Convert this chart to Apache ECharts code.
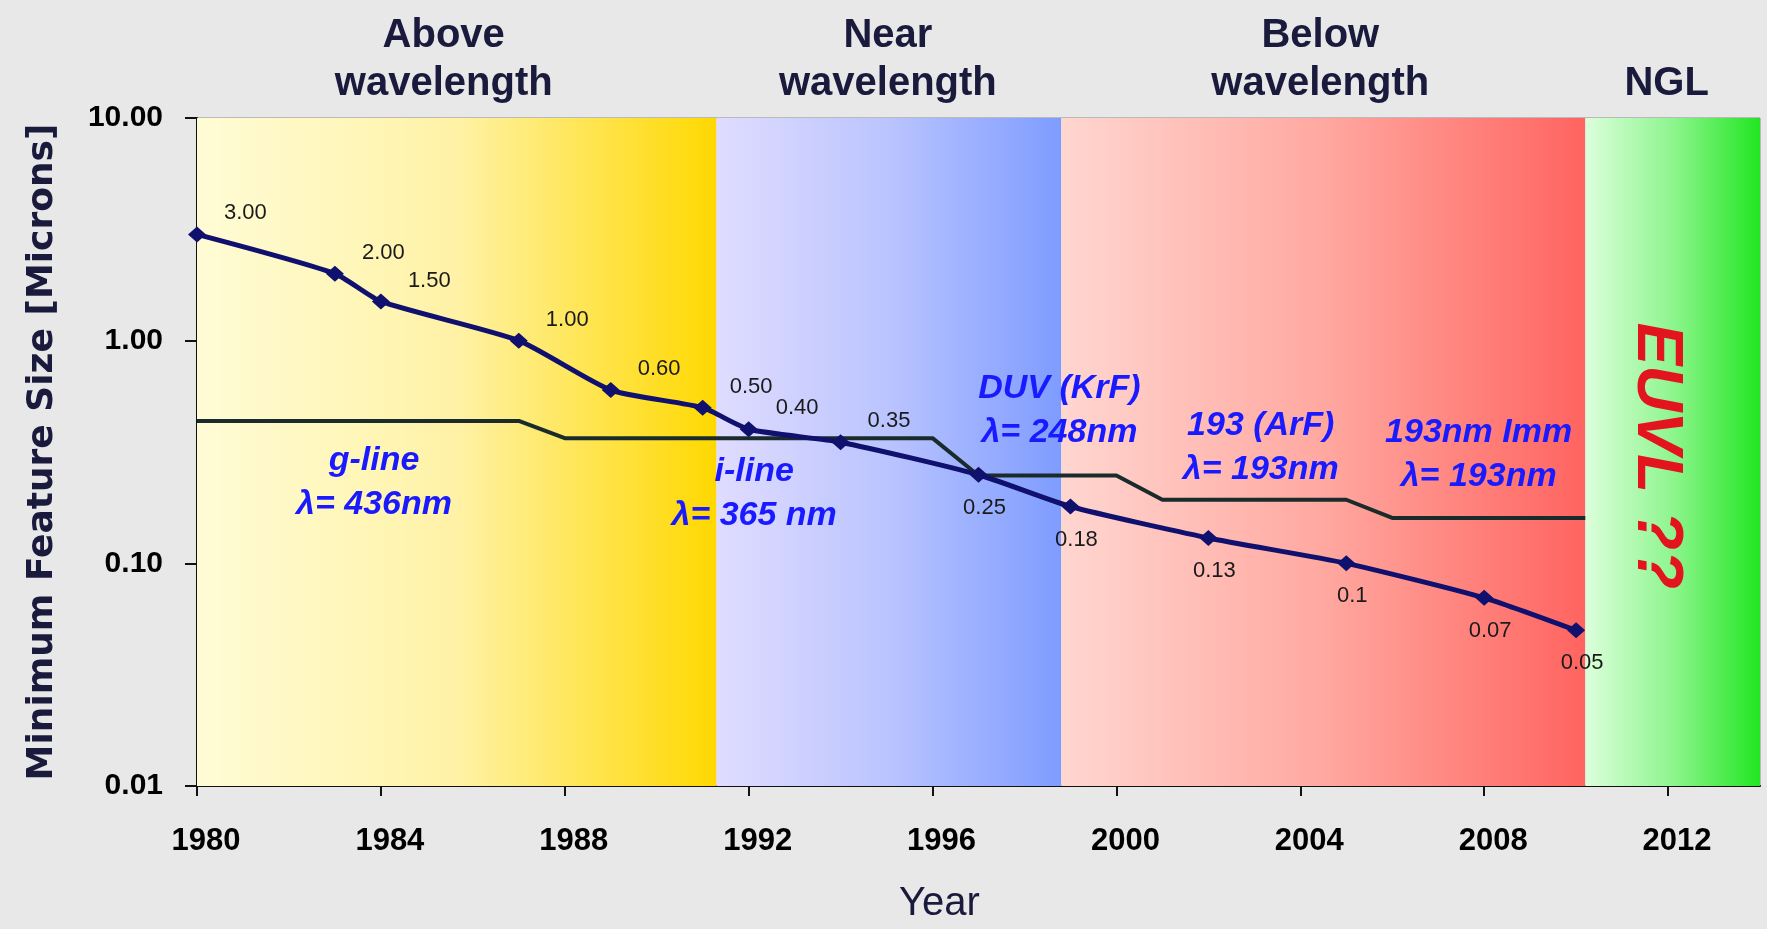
<!DOCTYPE html>
<html>
<head>
<meta charset="utf-8">
<title>Minimum Feature Size vs Year</title>
<script src="https://cdn.jsdelivr.net/npm/echarts@6.0.0/dist/echarts.min.js"></script>
<style>
  html, body { margin: 0; padding: 0; background: #e8e8e8; }
  #chart { width: 1767px; height: 929px; }
</style>
</head>
<body>
<div id="chart"></div>
<script>
// feature size roadmap (microns)
const years = [1980, 1983, 1984, 1987, 1989, 1991, 1992, 1994, 1997, 1999, 2002, 2005, 2008, 2010]
const featureSize = [3.0, 2.0, 1.5, 1.0, 0.6, 0.5, 0.4, 0.35, 0.25, 0.18, 0.13, 0.1, 0.07, 0.05]
const featureLabels = ['3.00', '2.00', '1.50', '1.00', '0.60', '0.50', '0.40', '0.35', '0.25', '0.18', '0.13', '0.1', '0.07', '0.05']

// exposure wavelength (microns)
const lambdaYears = [1980, 1987, 1988, 1996, 1997, 2000, 2001, 2005, 2006, 2010.2]
const lambdaMicrons = [0.436, 0.436, 0.365, 0.365, 0.248, 0.248, 0.193, 0.193, 0.16, 0.16]

// regimes
const bandNames = ['Above\nwavelength', 'Near\nwavelength', 'Below\nwavelength', 'NGL']
const bandStart = [1980, 1991.3, 1998.8, 2010.2]
const bandEnd = [1991.3, 1998.8, 2010.2, 2014]

// light sources
const noteTexts = ['g-line\nλ= 436nm', 'i-line\nλ= 365 nm', 'DUV (KrF)\nλ= 248nm', '193 (ArF)\nλ= 193nm', '193nm Imm\nλ= 193nm']
const noteYears = [1983.85, 1992.12, 1998.76, 2003.14, 2007.88]
const noteValues = [0.23, 0.205, 0.487, 0.33, 0.307]
const euvlText = 'EUVL ??'
const euvlAt = [2011.74, 0.304]

const xTicks = [1980, 1984, 1988, 1992, 1996, 2000, 2004, 2008, 2012]
const yTicks = [0.01, 0.1, 1, 10]

const bandColors = [
  ['#fffcd6', '#fff2a6', '#ffd800'],
  ['#e0dcff', '#bac4ff', '#7e9cff'],
  ['#ffd6d0', '#ffa8a0', '#ff6460'],
  ['#dcffdc', '#8ef58e', '#22e622']
]
// small nudges so the regime titles sit like the original
const bandLabelShift = [-13, -1, -3, -6]

const chart = echarts.init(document.getElementById('chart'))

const aboveLabel = { position: 'right', distance: 18, offset: [0, -21] }
const belowLabel = { position: 'bottom', distance: 14, offset: [6, 0] }

const option = {
  backgroundColor: '#e8e8e8',
  animation: false,
  grid: {
    left: 197,
    right: 7,
    top: 118,
    bottom: 139,
    show: true,
    borderColor: '#8c8c8c',
    borderWidth: 1,
    backgroundColor: 'transparent'
  },
  xAxis: {
    type: 'value',
    min: 1980,
    max: 2014,
    interval: 4,
    name: 'Year',
    nameLocation: 'middle',
    nameGap: 98,
    nameTextStyle: {
      fontFamily: 'Liberation Sans',
      fontSize: 40,
      color: '#1a1a3c',
      padding: [0, 78, 0, 0]
    },
    axisLine: { onZero: false, lineStyle: { color: '#111', width: 2 } },
    axisTick: { customValues: xTicks, length: 10, lineStyle: { color: '#111', width: 2 } },
    axisLabel: {
      customValues: xTicks,
      margin: 40,
      fontFamily: 'Liberation Sans',
      fontWeight: 'bold',
      fontSize: 31,
      color: '#000',
      padding: [0, 0, 0, 18],
      formatter: v => String(v)
    },
    splitLine: { show: false }
  },
  yAxis: {
    type: 'log',
    logBase: 10,
    min: 0.01,
    max: 10,
    name: 'Minimum Feature Size [Microns]',
    nameLocation: 'middle',
    nameGap: 136,
    nameTextStyle: {
      fontFamily: 'DejaVu Sans',
      fontWeight: 'bold',
      fontSize: 36,
      color: '#1a1a3c'
    },
    axisLine: { show: true, lineStyle: { color: '#111', width: 2 } },
    axisTick: { customValues: yTicks, length: 12, lineStyle: { color: '#111', width: 2 } },
    minorTick: { show: false },
    axisLabel: {
      customValues: yTicks,
      margin: 34,
      fontFamily: 'Liberation Sans',
      fontWeight: 'bold',
      fontSize: 30,
      color: '#000',
      padding: [14, 0, 0, 0],
      formatter: v => v.toFixed(2)
    },
    splitLine: { show: false }
  },
  series: [
    {
      name: 'bands',
      type: 'line',
      data: [],
      z: 1,
      silent: true,
      markArea: {
        silent: true,
        data: bandNames.map((name, i) => [
          {
            name: name,
            xAxis: bandStart[i],
            yAxis: 10,
            itemStyle: {
              color: new echarts.graphic.LinearGradient(0, 0, 1, 0, [
                { offset: 0, color: bandColors[i][0] },
                { offset: 0.5, color: bandColors[i][1] },
                { offset: 1, color: bandColors[i][2] }
              ])
            },
            label: { offset: [bandLabelShift[i], 0] }
          },
          { xAxis: bandEnd[i], yAxis: 0.01 }
        ]),
        label: {
          show: true,
          position: 'top',
          distance: 10,
          fontFamily: 'Liberation Sans',
          fontWeight: 'bold',
          fontSize: 40,
          lineHeight: 48,
          color: '#1a1a3c',
          align: 'center'
        }
      }
    },
    {
      name: 'Wavelength',
      type: 'line',
      z: 3,
      data: lambdaYears.map((y, i) => [y, lambdaMicrons[i]]),
      showSymbol: false,
      lineStyle: { color: '#1a2b2b', width: 4 },
      markPoint: {
        silent: true,
        symbol: 'rect',
        symbolSize: 1,
        itemStyle: { color: 'transparent' },
        label: {
          show: true,
          position: 'inside',
          fontFamily: 'Liberation Sans',
          fontWeight: 'bold',
          fontStyle: 'italic',
          fontSize: 34,
          lineHeight: 44,
          color: '#1a1aff',
          align: 'center'
        },
        data: noteTexts.map((t, i) => ({
          coord: [noteYears[i], noteValues[i]],
          label: { formatter: t }
        })).concat([{
          coord: euvlAt,
          label: {
            formatter: euvlText,
            rotate: -90,
            fontSize: 64,
            color: '#e3141e'
          }
        }])
      }
    },
    {
      name: 'Feature size',
      type: 'line',
      z: 4,
      smooth: 0.2,
      symbol: 'diamond',
      symbolSize: [18, 16],
      lineStyle: { color: '#10106e', width: 5 },
      itemStyle: { color: '#10106e' },
      label: {
        show: true,
        fontFamily: 'Liberation Sans',
        fontSize: 22,
        color: '#1a1a1a',
        formatter: p => featureLabels[p.dataIndex]
      },
      data: years.map((y, i) => ({
        value: [y, featureSize[i]],
        label: featureSize[i] >= 0.35 ? aboveLabel : belowLabel
      }))
    }
  ]
}

chart.setOption(option)

window.addEventListener('resize', () => chart.resize())
</script>
</body>
</html>
